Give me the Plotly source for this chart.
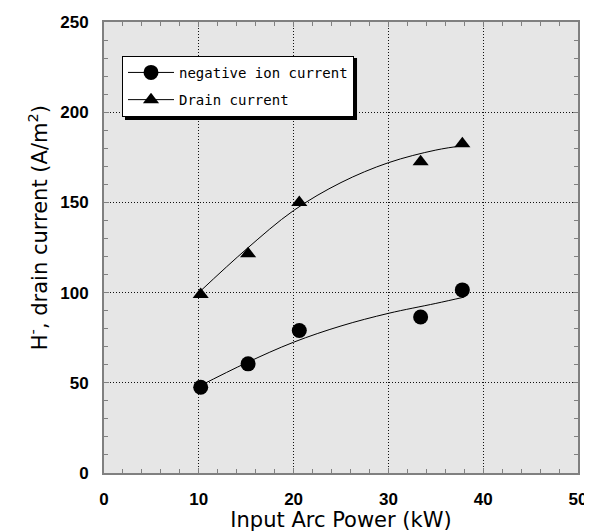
import plotly.graph_objects as go

# Data
power_kw = [10.2, 15.2, 20.6, 33.4, 37.8]
neg_ion_current = [47.5, 60.5, 79.0, 86.5, 101.5]
drain_current = [99.0, 121.5, 150.0, 172.5, 182.5]

# Smooth fitted curves
fit_x = [10, 15, 20, 25, 30, 35, 38]
fit_neg = [48.0, 61.0, 72.5, 81.5, 88.5, 94.0, 97.5]
fit_drain = [100.0, 124.0, 145.5, 161.0, 172.0, 179.0, 181.5]

x_ticks = [0, 10, 20, 30, 40, 50]
y_ticks = [0, 50, 100, 150, 200, 250]

fig = go.Figure()

line_style = dict(color="black", width=1)

fig.add_trace(go.Scatter(x=fit_x, y=fit_neg, mode="lines", line=dict(shape="spline", **line_style),
                         showlegend=False, hoverinfo="skip"))
fig.add_trace(go.Scatter(x=fit_x, y=fit_drain, mode="lines", line=dict(shape="spline", **line_style),
                         showlegend=False, hoverinfo="skip"))
fig.add_trace(go.Scatter(x=power_kw, y=neg_ion_current, mode="markers",
                         marker=dict(symbol="circle", size=15, color="black"), showlegend=False))
fig.add_trace(go.Scatter(x=power_kw, y=drain_current, mode="markers",
                         marker=dict(symbol="triangle-up", size=14, color="black"), showlegend=False))

# legend entries
fig.add_trace(go.Scatter(x=[None], y=[None], mode="lines+markers", name="negative ion current",
                         legendgroup="a", line=line_style,
                         marker=dict(symbol="circle", size=15, color="black")))
fig.add_trace(go.Scatter(x=[None], y=[None], mode="lines+markers", name="Drain current",
                         legendgroup="b", line=line_style,
                         marker=dict(symbol="triangle-up", size=14, color="black")))

axis_common = dict(
    showline=True, linecolor="#808080", linewidth=2, mirror="ticks",
    ticks="inside", ticklen=5, tickcolor="#808080", tickwidth=1,
    showgrid=True, gridcolor="#111111", griddash="1px,2px", gridwidth=1,
    zeroline=False, automargin=False,
    tickfont=dict(family="Liberation Sans", size=17, color="black", weight="bold"),
)

fig.update_xaxes(range=[0, 50], tickvals=x_ticks, ticktext=[str(v) for v in x_ticks],
                 ticklabelstandoff=10,
                 minor=dict(dtick=2, ticks="inside", ticklen=4, tickcolor="#808080", showgrid=False),
                 title=dict(text="Input Arc Power (kW)", font=dict(family="DejaVu Sans", size=21, color="black"),
                            standoff=6),
                 **axis_common)
fig.update_yaxes(range=[0, 250], tickvals=y_ticks, ticktext=[str(v) for v in y_ticks],
                 ticklabelstandoff=10,
                 minor=dict(dtick=10, ticks="inside", ticklen=4, tickcolor="#808080", showgrid=False),
                 **axis_common)

# y-axis title (placed slightly above the axis centre, as in the reference)
fig.add_annotation(text="H<sup>-</sup>, drain current (A/m<sup>2</sup>)",
                   xref="paper", yref="paper", x=-0.139, y=0.543,
                   xanchor="center", yanchor="middle", textangle=-90, showarrow=False,
                   font=dict(family="DejaVu Sans", size=21, color="black"))

# drop shadow behind the legend box
fig.add_shape(type="rect", xref="paper", yref="paper",
              x0=0.0443, x1=0.5338, y0=0.7827, y1=0.920,
              fillcolor="black", line=dict(width=0), layer="above")

# the page body has an 8px margin, so the figure is drawn 8px smaller
fig.update_layout(
    width=584, height=524,
    margin=dict(l=96, r=14, t=14, b=59),
    plot_bgcolor="#e6e6e6", paper_bgcolor="white",
    legend=dict(x=0.038, y=0.925, xanchor="left", yanchor="top",
                bgcolor="white", bordercolor="black", borderwidth=1,
                font=dict(family="DejaVu Sans Mono", size=14, color="black"),
                itemwidth=46, tracegroupgap=6),
)

fig.write_html("out.html")
